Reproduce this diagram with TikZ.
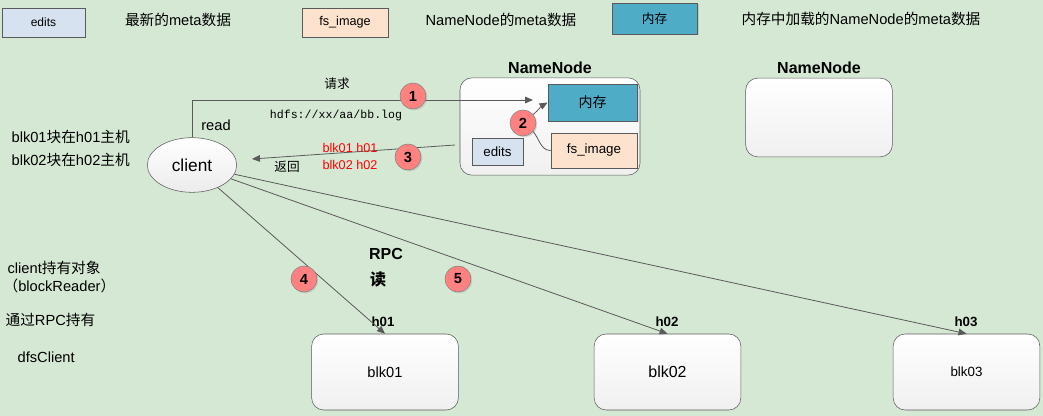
\documentclass[tikz,border=0pt]{standalone}
\usepackage{fontspec}
\setmainfont{Liberation Sans}
\setmonofont{Liberation Mono}
\newfontfamily\cjk{Noto Sans CJK SC}
\newcommand{\zh}[1]{{\cjk #1}}
\usetikzlibrary{arrows.meta, shadows, shapes.geometric}
\definecolor{bggreen}{RGB}{213,232,212}
\definecolor{editsblue}{RGB}{214,226,240}
\definecolor{fsorange}{RGB}{253,226,206}
\definecolor{memblue}{RGB}{78,172,198}
\definecolor{numred}{RGB}{255,130,128}
\definecolor{linegray}{RGB}{90,90,90}
\tikzstyle{box} = [draw=linegray, inner sep=0pt, drop shadow={opacity=0.25, shadow xshift=1pt, shadow yshift=-1pt}]
\tikzstyle{hostbox} = [draw=linegray, rounded corners=9pt, top color=white, bottom color=gray!12, inner sep=0pt]
\tikzstyle{num} = [circle, draw=gray, fill=numred, minimum size=19.5pt, inner sep=0pt, font=\bfseries\fontsize{11}{11}\selectfont, drop shadow={opacity=0.25, shadow xshift=1pt, shadow yshift=-1pt}]
\tikzstyle{txt} = [font=\fontsize{11}{13}\selectfont, inner sep=1pt]
\tikzstyle{small} = [font=\fontsize{9.5}{11}\selectfont, inner sep=1pt]
\tikzstyle{title} = [font=\bfseries\fontsize{10}{12}\selectfont, inner sep=1pt]
\tikzstyle{conn} = [draw=linegray, line width=0.6pt, -{Triangle[length=6pt,width=5pt]}]

\begin{document}
\begin{tikzpicture}[x=0.75pt, y=-0.75pt]
    \fill [bggreen] (0,0) rectangle (1043,416);
    \useasboundingbox (0,0) rectangle (1043,416);
    % legend
    \node (legedits) [box, fill=editsblue, minimum width=62pt, minimum height=22pt, font=\fontsize{9}{11}\selectfont] at (43.5,22.5) {edits};
    \node (legtxtA) [txt] at (178,20) {\zh{最新的}meta\zh{数据}};
    \node (legfs) [box, fill=fsorange, minimum width=64.5pt, minimum height=22pt, font=\fontsize{9.5}{11}\selectfont] at (345,22.5) {fs\_image};
    \node (legtxtB) [txt] at (501,20) {NameNode\zh{的}meta\zh{数据}};
    \node (legmem) [box, fill=memblue, minimum width=64pt, minimum height=23pt, font=\cjk\fontsize{9.5}{11}\selectfont] at (654.5,18.5) {内存};
    \node (legtxtC) [txt] at (861,19) {\zh{内存中加载的}NameNode\zh{的}meta\zh{数据}};
    % namenodes
    \node (nn1) [hostbox, minimum width=135pt, minimum height=73pt] at (550,126.5) {};
    \node [title, font=\bfseries\fontsize{12}{14}\selectfont] at (550,68) {NameNode};
    \node (mem) [box, fill=memblue, minimum width=67pt, minimum height=28pt, font=\cjk\fontsize{10.5}{12}\selectfont] at (592.5,102.5) {内存};
    \node (fsimg) [box, fill=fsorange, minimum width=64.5pt, minimum height=26pt, font=\fontsize{10}{12}\selectfont] at (594,150.5) {fs\_image};
    \node (edits) [box, fill=editsblue, minimum width=38pt, minimum height=20pt, font=\fontsize{10}{12}\selectfont] at (497.5,151.5) {edits};
    \node (nn2) [hostbox, minimum width=110pt, minimum height=59pt] at (819,117.5) {};
    \node [title, font=\bfseries\fontsize{12}{14}\selectfont] at (819,68) {NameNode};
    % client
    \node (client) [ellipse, draw=linegray, top color=white, bottom color=gray!15, minimum width=67pt, minimum height=41pt, inner sep=0pt, font=\fontsize{13}{15}\selectfont] at (192,165) {client};
    \node [txt] at (216,125) {read};
    \node [txt, anchor=west] at (10,137) {blk01\zh{块在}h01\zh{主机}};
    \node [txt, anchor=west] at (10,160) {blk02\zh{块在}h02\zh{主机}};
    \node [txt, anchor=west] at (6,268) {client\zh{持有对象}};
    \node [txt, anchor=west] at (2,286) {\zh{（}blockReader\zh{）}};
    \node [txt, anchor=west] at (4,320) {\zh{通过}RPC\zh{持有}};
    \node [txt, anchor=west] at (16,357) {dfsClient};
    % datanodes
    \node (blkA) [hostbox, minimum width=110pt, minimum height=57pt, font=\fontsize{11}{13}\selectfont] at (385,372) {blk01};
    \node (blkB) [hostbox, minimum width=110pt, minimum height=57pt, font=\fontsize{12}{14}\selectfont] at (667.5,372) {blk02};
    \node (blkC) [hostbox, minimum width=110pt, minimum height=57pt, font=\fontsize{10}{12}\selectfont] at (966.5,372) {blk03};
    \node [title] at (383,322) {h01};
    \node [title] at (667,322) {h02};
    \node [title] at (966,322) {h03};
    % request / response
    \coordinate (reqend) at (533,100);
    \coordinate (retstart) at (455,145);
    \coordinate (retend) at (252,159);
    \draw [conn] (client.north) |- (reqend);
    \node [small, font=\cjk\fontsize{9.5}{11}\selectfont] at (337,84) {请求};
    \node [small, font=\ttfamily\fontsize{8.7}{10}\selectfont] at (336,116) {hdfs://xx/aa/bb.log};
    \draw [conn] (retstart) -- (retend);
    \node [small, text=red] at (350,148) {blk01 h01};
    \node [small, text=red] at (350,165) {blk02 h02};
    \node [small, font=\cjk\fontsize{9.5}{11}\selectfont] at (287,167) {返回};
    % reads
    \draw [conn] (client) -- (blkA.north);
    \draw [conn] (client) -- (blkB.north);
    \draw [conn] (client) -- (blkC.north);
    \node [title, font=\bfseries\fontsize{12}{14}\selectfont] at (386,254) {RPC};
    \node [title, font=\cjk\bfseries\fontsize{12}{14}\selectfont] at (378,279) {读};
    % steps
    \node (stepA) [num] at (413,96) {1};
    \node (stepB) [num] at (523,123) {2};
    \node (stepC) [num] at (408,157) {3};
    \node (stepD) [num] at (304,279) {4};
    \node (stepE) [num] at (458,279) {5};
    \draw [conn] (stepB.40) to [out=40, in=-150] (mem.west);
    \draw [draw=linegray, line width=0.6pt] (stepB.-40) to [out=-50, in=180] (fsimg.west);
\end{tikzpicture}
\end{document}
